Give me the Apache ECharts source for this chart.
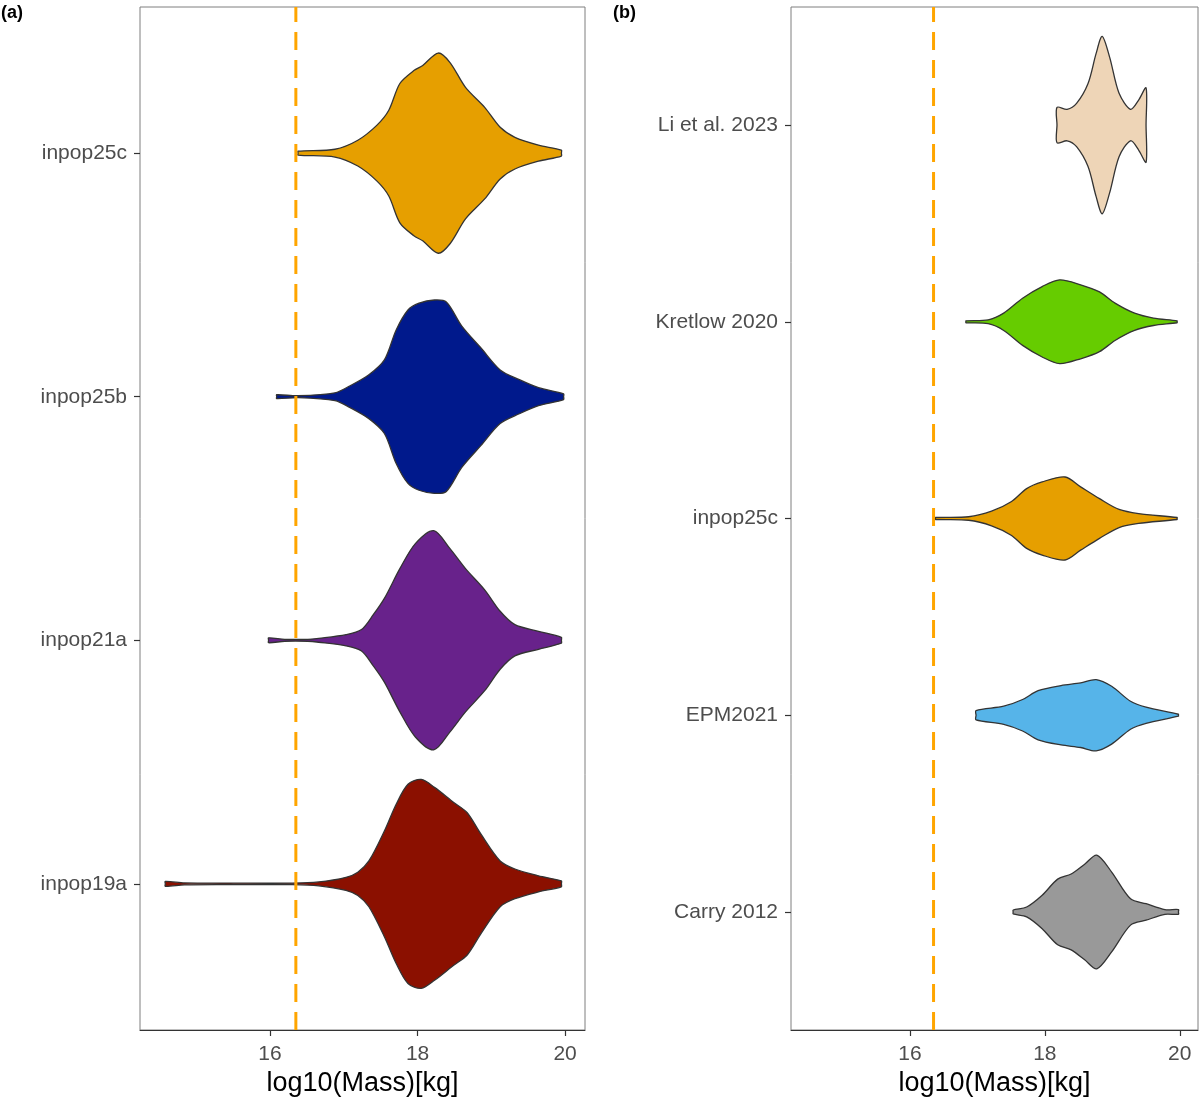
<!DOCTYPE html>
<html>
<head>
<meta charset="utf-8">
<script src="https://cdn.jsdelivr.net/npm/echarts@6/dist/echarts.min.js"></script>
<style>html,body{margin:0;padding:0;background:#fff}#c{width:1200px;height:1102px}</style>
</head>
<body>
<div id="c"></div>
<script>
// ---------- data ----------
const axisMin = 14.237, axisMax = 20.27;
const xTickValues = [16, 18, 20];
const refLine = 16.35;          // dashed vertical reference (log10 mass)
const xTitle = 'log10(Mass)[kg]';

// panel (a) categories, top to bottom
const catsA = ['inpop25c', 'inpop25b', 'inpop21a', 'inpop19a'];
const colorsA = ['#E69F00', '#00198C', '#68228B', '#8B1000'];
// panel (b) categories, top to bottom
const catsB = ['Li et al. 2023', 'Kretlow 2020', 'inpop25c', 'EPM2021', 'Carry 2012'];
const colorsB = ['#EED5B7', '#66CC00', '#E69F00', '#56B4E9', '#999999'];

// violin outlines: x = log10(mass), w = half width (category units)
const a_inpop25c_x = [16.38, 16.88, 17.19, 17.45, 17.61, 17.76, 17.95, 18.07, 18.28, 18.44, 18.65, 18.91, 19.12, 19.32, 19.64, 19.95];
const a_inpop25c_w = [0.008, 0.016, 0.053, 0.115, 0.176, 0.286, 0.339, 0.360, 0.411, 0.372, 0.270, 0.188, 0.106, 0.065, 0.033, 0.012];
const a_inpop25b_x = [16.09, 16.38, 16.88, 17.08, 17.34, 17.55, 17.71, 17.87, 18.02, 18.23, 18.39, 18.60, 18.86, 19.12, 19.38, 19.64, 19.98];
const a_inpop25b_w = [0.008, 0.004, 0.016, 0.044, 0.090, 0.151, 0.274, 0.356, 0.384, 0.397, 0.389, 0.290, 0.200, 0.110, 0.070, 0.037, 0.012];
const a_inpop21a_x = [15.98, 16.20, 16.51, 16.66, 17.03, 17.24, 17.40, 17.55, 17.76, 17.97, 18.22, 18.44, 18.65, 18.91, 19.12, 19.32, 19.64, 19.95];
const a_inpop21a_w = [0.010, 0.004, 0.004, 0.008, 0.023, 0.044, 0.105, 0.172, 0.294, 0.397, 0.450, 0.376, 0.294, 0.207, 0.119, 0.064, 0.037, 0.012];
const a_inpop19a_x = [14.58, 14.84, 15.50, 16.30, 16.66, 17.03, 17.19, 17.34, 17.55, 17.71, 17.87, 18.05, 18.23, 18.49, 18.67, 18.86, 19.12, 19.32, 19.64, 19.95];
const a_inpop19a_w = [0.010, 0.004, 0.003, 0.003, 0.008, 0.027, 0.048, 0.094, 0.217, 0.327, 0.409, 0.429, 0.396, 0.334, 0.293, 0.204, 0.094, 0.061, 0.033, 0.012];

const b_li_x = [18.18, 18.33, 18.47, 18.64, 18.76, 18.85, 18.96, 19.10, 19.27, 19.39, 19.50];
const b_li_w = [0.090, 0.080, 0.110, 0.211, 0.364, 0.451, 0.345, 0.161, 0.080, 0.127, 0.189];
const b_kretlow_x = [16.83, 17.16, 17.39, 17.67, 17.96, 18.22, 18.53, 18.81, 19.04, 19.33, 19.61, 19.96];
const b_kretlow_w = [0.005, 0.010, 0.044, 0.120, 0.179, 0.213, 0.188, 0.152, 0.095, 0.044, 0.019, 0.005];
const b_inpop25c_x = [16.38, 16.87, 17.21, 17.50, 17.73, 17.96, 18.30, 18.53, 18.81, 19.10, 19.39, 19.96];
const b_inpop25c_w = [0.005, 0.009, 0.037, 0.085, 0.152, 0.186, 0.211, 0.161, 0.101, 0.046, 0.025, 0.005];
const b_epm_x = [16.98, 17.39, 17.67, 17.90, 18.24, 18.53, 18.76, 18.99, 19.27, 19.50, 19.98];
const b_epm_w = [0.024, 0.046, 0.080, 0.125, 0.151, 0.164, 0.181, 0.147, 0.071, 0.041, 0.005];
const b_carry_x = [17.53, 17.73, 17.96, 18.19, 18.39, 18.59, 18.77, 18.99, 19.27, 19.50, 19.78, 19.98];
const b_carry_w = [0.010, 0.025, 0.085, 0.167, 0.193, 0.243, 0.289, 0.203, 0.067, 0.042, 0.012, 0.012];

const violinsA = [[a_inpop25c_x, a_inpop25c_w], [a_inpop25b_x, a_inpop25b_w], [a_inpop21a_x, a_inpop21a_w], [a_inpop19a_x, a_inpop19a_w]];
const violinsB = [[b_li_x, b_li_w], [b_kretlow_x, b_kretlow_w], [b_inpop25c_x, b_inpop25c_w], [b_epm_x, b_epm_w], [b_carry_x, b_carry_w]];

// ---------- chart ----------
const FONT = "'Liberation Sans', Arial, sans-serif";
const chart = echarts.init(document.getElementById('c'), null, {renderer: 'canvas'});

function yPos(cats, i) { return cats.length - i; }

function makeYAxis(gridIndex, cats) {
  const vals = cats.map((c, i) => yPos(cats, i));
  return {
    type: 'value', gridIndex: gridIndex, min: 0.4, max: cats.length + 0.6,
    splitLine: {show: false},
    axisLine: {show: false},
    axisTick: {show: true, length: 6, customValues: vals, lineStyle: {color: '#333', width: 1.2}},
    axisLabel: {
      show: true, customValues: vals, margin: 13, color: '#4d4d4d', fontSize: 21, fontFamily: FONT,
      formatter: function (v) { const i = cats.length - Math.round(v); return cats[i] || ''; }
    }
  };
}
function makeXAxis(gridIndex) {
  return {
    type: 'value', gridIndex: gridIndex, min: axisMin, max: axisMax,
    splitLine: {show: false},
    axisLine: {show: true, onZero: false, lineStyle: {color: '#333', width: 1}},
    axisTick: {show: true, length: 6, customValues: xTickValues, lineStyle: {color: '#333', width: 1.2}},
    axisLabel: {show: true, customValues: xTickValues, margin: 14, color: '#4d4d4d', fontSize: 21, fontFamily: FONT},
    name: xTitle, nameLocation: 'middle', nameGap: 40,
    nameTextStyle: {color: '#000', fontSize: 27, fontFamily: FONT}
  };
}

function violinSeries(idx, cats, violins, colors) {
  return {
    type: 'custom', xAxisIndex: idx, yAxisIndex: idx, z: 2,
    data: cats.map((c, i) => [i]),
    renderItem: function (params, api) {
      const i = api.value(0);
      const xs = violins[i][0], ws = violins[i][1];
      const n = xs.length;
      const yc = yPos(cats, i);
      const pts = [api.coord([xs[0], yc])];
      for (let k = 0; k < n; k++) pts.push(api.coord([xs[k], yc + ws[k]]));
      pts.push(api.coord([xs[n - 1], yc]));
      for (let k = n - 1; k >= 0; k--) pts.push(api.coord([xs[k], yc - ws[k]]));
      return {
        type: 'polygon',
        shape: {points: pts, smooth: 0.3},
        style: {fill: colors[i], stroke: '#333', lineWidth: 1.3}
      };
    }
  };
}

function refSeries(idx, n) {
  return {
    type: 'line', xAxisIndex: idx, yAxisIndex: idx, z: 5, symbol: 'none', silent: true,
    data: [[refLine, 0.4], [refLine, n + 0.6]],
    lineStyle: {color: '#FFA500', width: 3, type: [18, 10]}
  };
}

chart.setOption({
  animation: false,
  backgroundColor: '#fff',
  grid: [
    {left: 140, top: 7, width: 445, height: 1025, show: true, borderColor: '#7f7f7f', borderWidth: 1, backgroundColor: 'transparent'},
    {left: 791, top: 7, width: 407, height: 1025, show: true, borderColor: '#7f7f7f', borderWidth: 1, backgroundColor: 'transparent'}
  ],
  xAxis: [makeXAxis(0), makeXAxis(1)],
  yAxis: [makeYAxis(0, catsA), makeYAxis(1, catsB)],
  graphic: [
    {type: 'text', left: 1, top: 4, style: {text: '(a)', fontSize: 18, fontWeight: 'bold', fontFamily: FONT, fill: '#000'}},
    {type: 'text', left: 613, top: 4, style: {text: '(b)', fontSize: 18, fontWeight: 'bold', fontFamily: FONT, fill: '#000'}}
  ],
  series: [
    violinSeries(0, catsA, violinsA, colorsA),
    violinSeries(1, catsB, violinsB, colorsB),
    refSeries(0, catsA.length),
    refSeries(1, catsB.length)
  ]
});
</script>
</body>
</html>
